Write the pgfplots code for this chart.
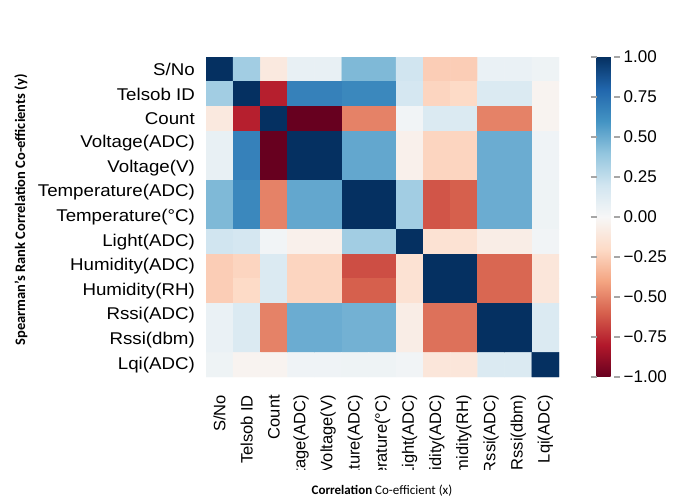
\documentclass[border=0pt]{standalone}
\usepackage{fontspec}
\setmainfont{Liberation Sans}
\newfontfamily\rowfont{Liberation Sans}[FakeStretch=1.1]
\newfontfamily\titlefont{Carlito}
\usepackage{pgfplots}
\pgfplotsset{compat=1.18}

\pgfplotsset{
  colormap={RdBu}{rgb255=(103,0,31) rgb255=(178,24,43) rgb255=(214,96,77)
    rgb255=(244,165,130) rgb255=(253,219,199) rgb255=(247,247,247)
    rgb255=(209,229,240) rgb255=(146,197,222) rgb255=(67,147,195)
    rgb255=(33,102,172) rgb255=(5,48,97)},
}

\begin{document}
\begin{tikzpicture}
\path[use as bounding box] (0,0) rectangle (686bp,501bp);
\begin{scope}
% long column names are cut off below this line
\clip (0,31bp) rectangle (686bp,501bp);
\begin{axis}[
  at={(206bp,124bp)}, anchor=south west,
  scale only axis, width=353bp, height=320bp,
  xmin=-0.5, xmax=12.5, ymin=-0.5, ymax=12.5,
  y dir=reverse,
  axis line style={draw=none},
  major tick length=0pt,
  xtick={0,...,12}, ytick={0,...,12},
  xticklabels={S/No,Telsob ID,Count,Voltage(ADC),Voltage(V),Temperature(ADC),Temperature(°C),Light(ADC),Humidity(ADC),Humidity(RH),Rssi(ADC),Rssi(dbm),Lqi(ADC)},
  yticklabels={S/No,Telsob ID,Count,Voltage(ADC),Voltage(V),Temperature(ADC),Temperature(°C),Light(ADC),Humidity(ADC),Humidity(RH),Rssi(ADC),Rssi(dbm),Lqi(ADC)},
  xticklabel style={rotate=90, anchor=east, inner sep=0pt, font=\fontsize{16.5bp}{18bp}\selectfont},
  yticklabel style={anchor=east, inner sep=0pt, font=\rowfont\fontsize{17bp}{19bp}\selectfont},
  xticklabel shift=18bp,
  yticklabel shift=11bp,
  colormap name=RdBu,
  point meta min=-1, point meta max=1,
  colorbar,
  colorbar style={
    at={(parent axis.north east)}, anchor=north west, xshift=29bp,
    scale only axis, width=17bp, height=320bp,
    axis line style={draw=none},
    ytick={-1,-0.75,-0.5,-0.25,0,0.25,0.5,0.75,1},
    yticklabels={−1.00,−0.75,−0.50,−0.25,0.00,0.25,0.50,0.75,1.00},
    yticklabel style={anchor=west, inner sep=0pt, font=\fontsize{17bp}{19bp}\selectfont},
    yticklabel shift=4bp,
    tick align=outside,
    major tick length=6bp,
    tick style={draw=gray!70, line width=1.2bp},
  },
]
\addplot[matrix plot*, mesh/cols=13, point meta=explicit] coordinates {
(0,0)[1.00] (1,0)[0.35] (2,0)[-0.10] (3,0)[0.08] (4,0)[0.08] (5,0)[0.45] (6,0)[0.45] (7,0)[0.20] (8,0)[-0.25] (9,0)[-0.25] (10,0)[0.07] (11,0)[0.07] (12,0)[0.05]
(0,1)[0.35] (1,1)[1.00] (2,1)[-0.78] (3,1)[0.68] (4,1)[0.68] (5,1)[0.65] (6,1)[0.65] (7,1)[0.18] (8,1)[-0.22] (9,1)[-0.20] (10,1)[0.15] (11,1)[0.15] (12,1)[-0.03]
(0,2)[-0.10] (1,2)[-0.78] (2,2)[1.00] (3,2)[-1.00] (4,2)[-1.00] (5,2)[-0.50] (6,2)[-0.50] (7,2)[0.03] (8,2)[0.15] (9,2)[0.15] (10,2)[-0.50] (11,2)[-0.50] (12,2)[-0.03]
(0,3)[0.08] (1,3)[0.68] (2,3)[-1.00] (3,3)[1.00] (4,3)[1.00] (5,3)[0.52] (6,3)[0.52] (7,3)[-0.05] (8,3)[-0.22] (9,3)[-0.22] (10,3)[0.50] (11,3)[0.50] (12,3)[0.04]
(0,4)[0.08] (1,4)[0.68] (2,4)[-1.00] (3,4)[1.00] (4,4)[1.00] (5,4)[0.52] (6,4)[0.52] (7,4)[-0.05] (8,4)[-0.22] (9,4)[-0.22] (10,4)[0.50] (11,4)[0.50] (12,4)[0.04]
(0,5)[0.45] (1,5)[0.65] (2,5)[-0.50] (3,5)[0.52] (4,5)[0.52] (5,5)[1.00] (6,5)[1.00] (7,5)[0.35] (8,5)[-0.63] (9,5)[-0.60] (10,5)[0.50] (11,5)[0.50] (12,5)[0.05]
(0,6)[0.45] (1,6)[0.65] (2,6)[-0.50] (3,6)[0.52] (4,6)[0.52] (5,6)[1.00] (6,6)[1.00] (7,6)[0.35] (8,6)[-0.63] (9,6)[-0.60] (10,6)[0.50] (11,6)[0.50] (12,6)[0.05]
(0,7)[0.20] (1,7)[0.18] (2,7)[0.03] (3,7)[-0.05] (4,7)[-0.05] (5,7)[0.35] (6,7)[0.35] (7,7)[1.00] (8,7)[-0.15] (9,7)[-0.15] (10,7)[-0.07] (11,7)[-0.07] (12,7)[0.03]
(0,8)[-0.25] (1,8)[-0.22] (2,8)[0.15] (3,8)[-0.22] (4,8)[-0.22] (5,8)[-0.65] (6,8)[-0.65] (7,8)[-0.15] (8,8)[1.00] (9,8)[1.00] (10,8)[-0.58] (11,8)[-0.58] (12,8)[-0.12]
(0,9)[-0.25] (1,9)[-0.20] (2,9)[0.15] (3,9)[-0.22] (4,9)[-0.22] (5,9)[-0.60] (6,9)[-0.60] (7,9)[-0.15] (8,9)[1.00] (9,9)[1.00] (10,9)[-0.58] (11,9)[-0.58] (12,9)[-0.12]
(0,10)[0.07] (1,10)[0.15] (2,10)[-0.50] (3,10)[0.50] (4,10)[0.50] (5,10)[0.48] (6,10)[0.48] (7,10)[-0.07] (8,10)[-0.55] (9,10)[-0.55] (10,10)[1.00] (11,10)[1.00] (12,10)[0.15]
(0,11)[0.07] (1,11)[0.15] (2,11)[-0.50] (3,11)[0.50] (4,11)[0.50] (5,11)[0.48] (6,11)[0.48] (7,11)[-0.07] (8,11)[-0.55] (9,11)[-0.55] (10,11)[1.00] (11,11)[1.00] (12,11)[0.15]
(0,12)[0.05] (1,12)[-0.03] (2,12)[-0.03] (3,12)[0.04] (4,12)[0.04] (5,12)[0.05] (6,12)[0.05] (7,12)[0.03] (8,12)[-0.12] (9,12)[-0.12] (10,12)[0.15] (11,12)[0.15] (12,12)[1.00]
};
\end{axis}
\end{scope}
\node[rotate=90, font=\titlefont\bfseries\fontsize{14.5bp}{16bp}\selectfont] at (21bp,291bp) {Spearman’s Rank Correlation Co-efficients (y)};
\node[font=\titlefont\fontsize{13bp}{15bp}\selectfont] at (382bp,10bp) {\textbf{Correlation} Co-efficient (x)};
\end{tikzpicture}
\end{document}
